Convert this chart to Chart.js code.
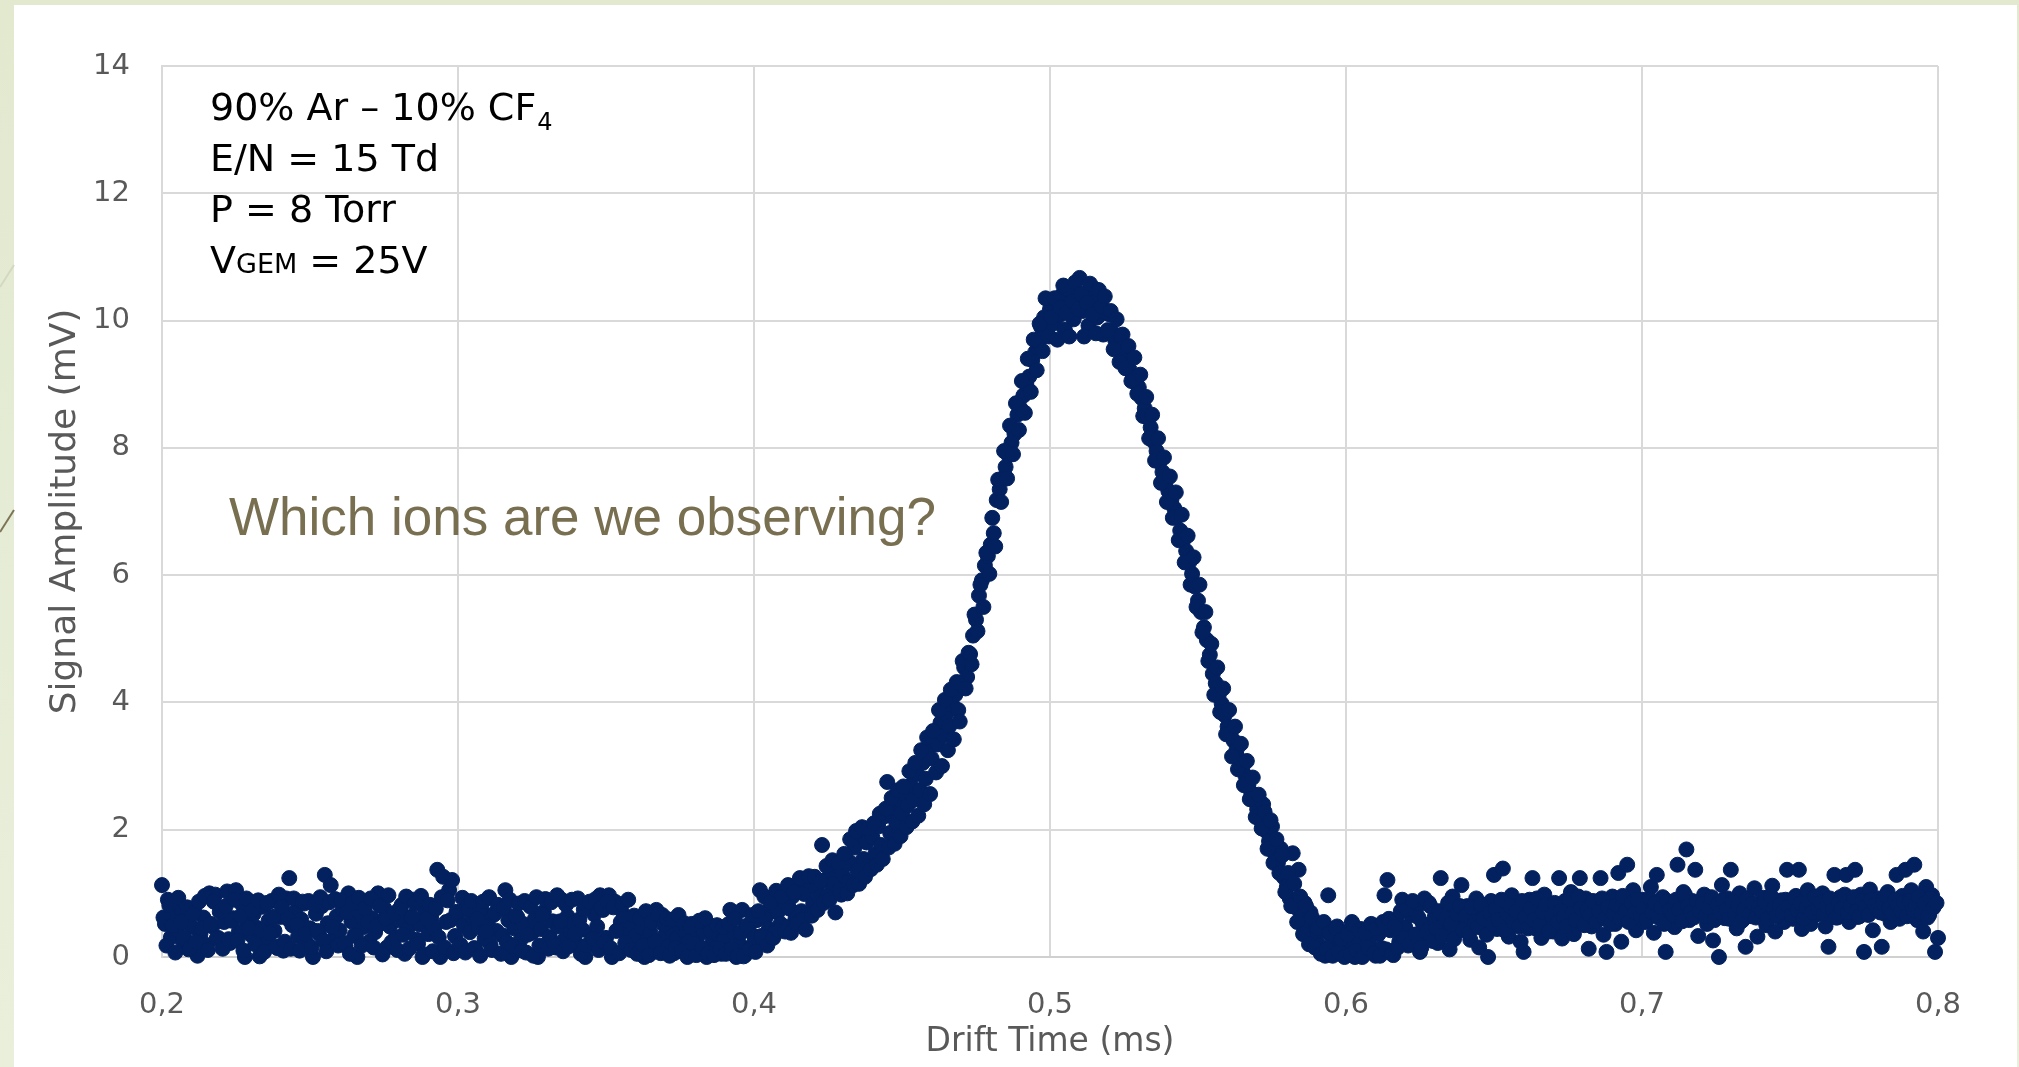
<!DOCTYPE html>
<html>
<head>
<meta charset="utf-8">
<title>Drift time spectrum</title>
<script src="https://cdn.jsdelivr.net/npm/chart.js@4"></script>
<style>
  html, body { margin: 0; padding: 0; background: #e6edd4; }
  canvas { display: block; }
</style>
</head>
<body>
<canvas id="driftChart" width="2019" height="1067"></canvas>
<script>
// drift time samples (ms), whole steps
const driftTime = [
  0.200,0.201,0.202,0.203,0.204,0.205,0.206,0.207,0.208,0.209,
  0.210,0.211,0.212,0.213,0.214,0.215,0.216,0.217,0.218,0.219,
  0.220,0.221,0.222,0.223,0.224,0.225,0.226,0.227,0.228,0.229,
  0.230,0.231,0.232,0.233,0.234,0.235,0.236,0.237,0.238,0.239,
  0.240,0.241,0.242,0.243,0.244,0.245,0.246,0.247,0.248,0.249,
  0.250,0.251,0.252,0.253,0.254,0.255,0.256,0.257,0.258,0.259,
  0.260,0.261,0.262,0.263,0.264,0.265,0.266,0.267,0.268,0.269,
  0.270,0.271,0.272,0.273,0.274,0.275,0.276,0.277,0.278,0.279,
  0.280,0.281,0.282,0.283,0.284,0.285,0.286,0.287,0.288,0.289,
  0.290,0.291,0.292,0.293,0.294,0.295,0.296,0.297,0.298,0.299,
  0.300,0.301,0.302,0.303,0.304,0.305,0.306,0.307,0.308,0.309,
  0.310,0.311,0.312,0.313,0.314,0.315,0.316,0.317,0.318,0.319,
  0.320,0.321,0.322,0.323,0.324,0.325,0.326,0.327,0.328,0.329,
  0.330,0.331,0.332,0.333,0.334,0.335,0.336,0.337,0.338,0.339,
  0.340,0.341,0.342,0.343,0.344,0.345,0.346,0.347,0.348,0.349,
  0.350,0.351,0.352,0.353,0.354,0.355,0.356,0.357,0.358,0.359,
  0.360,0.361,0.362,0.363,0.364,0.365,0.366,0.367,0.368,0.369,
  0.370,0.371,0.372,0.373,0.374,0.375,0.376,0.377,0.378,0.379,
  0.380,0.381,0.382,0.383,0.384,0.385,0.386,0.387,0.388,0.389,
  0.390,0.391,0.392,0.393,0.394,0.395,0.396,0.397,0.398,0.399,
  0.400,0.401,0.402,0.403,0.404,0.405,0.406,0.407,0.408,0.409,
  0.410,0.411,0.412,0.413,0.414,0.415,0.416,0.417,0.418,0.419,
  0.420,0.421,0.422,0.423,0.424,0.425,0.426,0.427,0.428,0.429,
  0.430,0.431,0.432,0.433,0.434,0.435,0.436,0.437,0.438,0.439,
  0.440,0.441,0.442,0.443,0.444,0.445,0.446,0.447,0.448,0.449,
  0.450,0.451,0.452,0.453,0.454,0.455,0.456,0.457,0.458,0.459,
  0.460,0.461,0.462,0.463,0.464,0.465,0.466,0.467,0.468,0.469,
  0.470,0.471,0.472,0.473,0.474,0.475,0.476,0.477,0.478,0.479,
  0.480,0.481,0.482,0.483,0.484,0.485,0.486,0.487,0.488,0.489,
  0.490,0.491,0.492,0.493,0.494,0.495,0.496,0.497,0.498,0.499,
  0.500,0.501,0.502,0.503,0.504,0.505,0.506,0.507,0.508,0.509,
  0.510,0.511,0.512,0.513,0.514,0.515,0.516,0.517,0.518,0.519,
  0.520,0.521,0.522,0.523,0.524,0.525,0.526,0.527,0.528,0.529,
  0.530,0.531,0.532,0.533,0.534,0.535,0.536,0.537,0.538,0.539,
  0.540,0.541,0.542,0.543,0.544,0.545,0.546,0.547,0.548,0.549,
  0.550,0.551,0.552,0.553,0.554,0.555,0.556,0.557,0.558,0.559,
  0.560,0.561,0.562,0.563,0.564,0.565,0.566,0.567,0.568,0.569,
  0.570,0.571,0.572,0.573,0.574,0.575,0.576,0.577,0.578,0.579,
  0.580,0.581,0.582,0.583,0.584,0.585,0.586,0.587,0.588,0.589,
  0.590,0.591,0.592,0.593,0.594,0.595,0.596,0.597,0.598,0.599,
  0.600,0.601,0.602,0.603,0.604,0.605,0.606,0.607,0.608,0.609,
  0.610,0.611,0.612,0.613,0.614,0.615,0.616,0.617,0.618,0.619,
  0.620,0.621,0.622,0.623,0.624,0.625,0.626,0.627,0.628,0.629,
  0.630,0.631,0.632,0.633,0.634,0.635,0.636,0.637,0.638,0.639,
  0.640,0.641,0.642,0.643,0.644,0.645,0.646,0.647,0.648,0.649,
  0.650,0.651,0.652,0.653,0.654,0.655,0.656,0.657,0.658,0.659,
  0.660,0.661,0.662,0.663,0.664,0.665,0.666,0.667,0.668,0.669,
  0.670,0.671,0.672,0.673,0.674,0.675,0.676,0.677,0.678,0.679,
  0.680,0.681,0.682,0.683,0.684,0.685,0.686,0.687,0.688,0.689,
  0.690,0.691,0.692,0.693,0.694,0.695,0.696,0.697,0.698,0.699,
  0.700,0.701,0.702,0.703,0.704,0.705,0.706,0.707,0.708,0.709,
  0.710,0.711,0.712,0.713,0.714,0.715,0.716,0.717,0.718,0.719,
  0.720,0.721,0.722,0.723,0.724,0.725,0.726,0.727,0.728,0.729,
  0.730,0.731,0.732,0.733,0.734,0.735,0.736,0.737,0.738,0.739,
  0.740,0.741,0.742,0.743,0.744,0.745,0.746,0.747,0.748,0.749,
  0.750,0.751,0.752,0.753,0.754,0.755,0.756,0.757,0.758,0.759,
  0.760,0.761,0.762,0.763,0.764,0.765,0.766,0.767,0.768,0.769,
  0.770,0.771,0.772,0.773,0.774,0.775,0.776,0.777,0.778,0.779,
  0.780,0.781,0.782,0.783,0.784,0.785,0.786,0.787,0.788,0.789,
  0.790,0.791,0.792,0.793,0.794,0.795,0.796,0.797,0.798,0.799,
  0.800
];

// signal amplitude (mV), one value per whole-step sample
const amplitude = [
  1.13,0.52,0.90,0.31,0.66,0.44,0.78,0.25,0.58,0.12,
  0.47,0.71,0.02,0.36,0.62,0.19,1.00,0.48,0.98,0.30,
  0.74,0.55,1.03,0.22,0.61,1.05,0.40,0.83,0.00,0.52,
  0.35,0.68,0.46,0.01,0.79,0.27,0.57,0.88,0.41,0.14,
  0.63,0.10,0.92,1.24,0.50,0.71,0.33,0.59,0.84,0.21,
  0.45,0.00,0.68,0.37,0.80,1.29,0.53,1.13,0.28,0.64,
  0.42,0.75,0.18,1.00,0.56,0.34,0.00,0.69,0.47,0.86,
  0.24,0.61,0.39,1.00,0.53,0.77,0.15,0.48,0.66,0.31,
  0.58,0.82,0.05,0.44,0.63,0.90,0.27,0.51,0.00,0.72,
  0.36,0.60,0.45,1.37,0.00,1.26,0.55,1.05,1.21,0.33,
  0.68,0.18,0.50,0.82,0.39,0.61,0.12,0.47,0.74,0.29,
  0.55,0.20,0.66,0.41,0.79,0.34,1.05,0.58,0.00,0.45,
  0.63,0.26,0.52,0.07,0.82,0.38,0.60,0.00,0.44,0.71,
  0.90,0.32,0.56,0.15,0.48,0.90,0.27,0.64,0.40,0.53,
  0.21,0.59,0.43,0.00,0.82,0.35,0.67,0.48,0.97,0.74,
  0.30,0.97,0.00,0.87,0.42,0.55,0.66,0.19,0.38,0.50,
  0.33,0.12,0.46,0.00,0.28,0.39,0.08,0.74,0.22,0.66,
  0.35,0.17,0.44,0.06,0.30,0.48,0.13,0.37,0.24,0.52,
  0.19,0.33,0.08,0.41,0.00,0.50,0.27,0.14,0.36,0.05,
  0.29,0.11,0.74,0.38,0.00,0.21,0.74,0.03,0.45,0.16,
  0.33,0.58,1.05,0.27,0.62,0.44,0.81,0.39,0.70,0.52,
  0.88,0.47,0.76,0.95,0.60,1.12,0.72,0.99,0.66,1.18,
  0.84,1.08,0.93,1.76,1.21,0.98,1.35,1.15,1.44,1.06,
  1.30,1.58,1.19,1.47,1.72,1.36,1.93,1.54,1.80,1.42,
  1.88,1.62,2.05,1.76,2.21,2.75,1.95,2.34,2.12,2.48,
  2.26,2.55,2.38,2.70,2.47,2.88,2.62,3.05,2.80,3.30,
  3.12,3.52,3.34,3.68,3.48,3.82,3.63,3.96,4.12,3.88,
  4.28,4.55,4.40,4.76,5.05,5.30,5.68,5.92,6.15,6.30,
  6.48,6.66,7.18,7.35,7.52,7.70,7.88,8.08,8.22,8.52,
  8.62,8.82,9.00,9.12,9.38,9.50,9.66,9.90,10.05,9.82,
  10.18,9.95,10.32,10.08,10.40,9.86,10.22,10.45,10.02,10.30,
  10.67,10.15,10.38,9.92,10.26,10.50,10.05,10.35,9.78,10.12,
  10.10,9.82,9.70,9.58,9.74,9.46,9.35,9.22,9.10,9.02,
  8.95,8.78,8.62,8.48,8.32,8.10,7.95,7.78,7.62,7.45,
  7.32,7.18,7.05,6.92,6.70,6.55,6.38,6.20,6.02,5.82,
  5.60,5.42,5.18,4.98,4.75,4.45,4.30,4.12,3.98,3.80,
  3.62,3.48,3.40,3.25,3.10,2.98,2.85,2.70,2.58,2.45,
  2.32,2.16,2.40,1.98,1.82,2.05,1.62,1.48,1.70,1.25,
  1.10,0.92,1.63,0.78,1.37,0.62,0.85,0.45,0.70,0.30,
  0.52,0.18,0.40,0.02,0.97,0.33,0.12,0.48,0.25,0.06,
  0.38,0.15,0.55,0.00,0.29,0.44,0.09,0.33,0.20,0.50,
  0.02,0.36,0.14,0.97,1.21,0.42,0.03,0.58,0.24,0.90,
  0.47,0.18,0.66,0.35,0.78,0.08,0.52,0.29,0.85,0.41,
  0.63,0.22,1.24,0.50,0.74,0.12,0.95,0.38,0.60,1.13,
  0.46,0.80,0.27,0.68,0.92,0.15,0.55,0.76,0.00,0.88,
  1.29,0.44,0.70,1.39,0.58,0.32,0.97,0.50,0.81,0.24,
  0.08,0.66,0.90,1.24,0.45,0.73,0.30,0.98,0.57,0.82,
  0.40,0.69,1.24,0.29,0.88,0.55,1.02,0.36,0.75,1.24,
  0.62,0.92,0.13,0.48,0.80,0.58,1.24,0.35,0.08,0.71,
  0.95,0.52,1.32,0.24,0.83,1.45,0.64,1.05,0.42,0.78,
  0.90,0.55,0.72,1.10,0.38,1.29,0.66,0.94,0.08,0.60,
  0.84,0.47,1.45,0.70,1.02,1.69,0.58,0.88,1.37,0.33,
  0.76,0.98,0.52,0.80,0.26,0.68,0.00,1.13,0.61,0.92,
  1.37,0.72,0.45,1.00,0.58,0.16,0.85,0.64,1.08,0.32,
  0.70,0.93,0.50,0.78,1.12,0.40,0.66,0.89,0.55,1.37,
  0.82,0.60,0.96,1.37,0.44,0.74,1.05,0.52,0.88,0.67,
  0.79,1.00,0.48,0.16,0.85,1.29,0.62,0.94,0.70,1.29,
  0.55,0.86,1.37,0.63,0.98,0.08,0.74,1.06,0.42,0.80,
  0.92,0.16,0.68,1.02,0.55,0.84,1.29,0.60,0.96,1.37,
  0.72,1.05,1.45,0.58,0.86,0.40,1.10,0.66,0.97,0.08,
  0.30
];

// drift time samples (ms), half steps in between
const halfStepTime = [
  0.2005,0.2015,0.2025,0.2035,0.2045,0.2055,0.2065,0.2075,0.2085,0.2095,
  0.2105,0.2115,0.2125,0.2135,0.2145,0.2155,0.2165,0.2175,0.2185,0.2195,
  0.2205,0.2215,0.2225,0.2235,0.2245,0.2255,0.2265,0.2275,0.2285,0.2295,
  0.2305,0.2315,0.2325,0.2335,0.2345,0.2355,0.2365,0.2375,0.2385,0.2395,
  0.2405,0.2415,0.2425,0.2435,0.2445,0.2455,0.2465,0.2475,0.2485,0.2495,
  0.2505,0.2515,0.2525,0.2535,0.2545,0.2555,0.2565,0.2575,0.2585,0.2595,
  0.2605,0.2615,0.2625,0.2635,0.2645,0.2655,0.2665,0.2675,0.2685,0.2695,
  0.2705,0.2715,0.2725,0.2735,0.2745,0.2755,0.2765,0.2775,0.2785,0.2795,
  0.2805,0.2815,0.2825,0.2835,0.2845,0.2855,0.2865,0.2875,0.2885,0.2895,
  0.2905,0.2915,0.2925,0.2935,0.2945,0.2955,0.2965,0.2975,0.2985,0.2995,
  0.3005,0.3015,0.3025,0.3035,0.3045,0.3055,0.3065,0.3075,0.3085,0.3095,
  0.3105,0.3115,0.3125,0.3135,0.3145,0.3155,0.3165,0.3175,0.3185,0.3195,
  0.3205,0.3215,0.3225,0.3235,0.3245,0.3255,0.3265,0.3275,0.3285,0.3295,
  0.3305,0.3315,0.3325,0.3335,0.3345,0.3355,0.3365,0.3375,0.3385,0.3395,
  0.3405,0.3415,0.3425,0.3435,0.3445,0.3455,0.3465,0.3475,0.3485,0.3495,
  0.3505,0.3515,0.3525,0.3535,0.3545,0.3555,0.3565,0.3575,0.3585,0.3595,
  0.3605,0.3615,0.3625,0.3635,0.3645,0.3655,0.3665,0.3675,0.3685,0.3695,
  0.3705,0.3715,0.3725,0.3735,0.3745,0.3755,0.3765,0.3775,0.3785,0.3795,
  0.3805,0.3815,0.3825,0.3835,0.3845,0.3855,0.3865,0.3875,0.3885,0.3895,
  0.3905,0.3915,0.3925,0.3935,0.3945,0.3955,0.3965,0.3975,0.3985,0.3995,
  0.4005,0.4015,0.4025,0.4035,0.4045,0.4055,0.4065,0.4075,0.4085,0.4095,
  0.4105,0.4115,0.4125,0.4135,0.4145,0.4155,0.4165,0.4175,0.4185,0.4195,
  0.4205,0.4215,0.4225,0.4235,0.4245,0.4255,0.4265,0.4275,0.4285,0.4295,
  0.4305,0.4315,0.4325,0.4335,0.4345,0.4355,0.4365,0.4375,0.4385,0.4395,
  0.4405,0.4415,0.4425,0.4435,0.4445,0.4455,0.4465,0.4475,0.4485,0.4495,
  0.4505,0.4515,0.4525,0.4535,0.4545,0.4555,0.4565,0.4575,0.4585,0.4595,
  0.4605,0.4615,0.4625,0.4635,0.4645,0.4655,0.4665,0.4675,0.4685,0.4695,
  0.4705,0.4715,0.4725,0.4735,0.4745,0.4755,0.4765,0.4775,0.4785,0.4795,
  0.4805,0.4815,0.4825,0.4835,0.4845,0.4855,0.4865,0.4875,0.4885,0.4895,
  0.4905,0.4915,0.4925,0.4935,0.4945,0.4955,0.4965,0.4975,0.4985,0.4995,
  0.5005,0.5015,0.5025,0.5035,0.5045,0.5055,0.5065,0.5075,0.5085,0.5095,
  0.5105,0.5115,0.5125,0.5135,0.5145,0.5155,0.5165,0.5175,0.5185,0.5195,
  0.5205,0.5215,0.5225,0.5235,0.5245,0.5255,0.5265,0.5275,0.5285,0.5295,
  0.5305,0.5315,0.5325,0.5335,0.5345,0.5355,0.5365,0.5375,0.5385,0.5395,
  0.5405,0.5415,0.5425,0.5435,0.5445,0.5455,0.5465,0.5475,0.5485,0.5495,
  0.5505,0.5515,0.5525,0.5535,0.5545,0.5555,0.5565,0.5575,0.5585,0.5595,
  0.5605,0.5615,0.5625,0.5635,0.5645,0.5655,0.5665,0.5675,0.5685,0.5695,
  0.5705,0.5715,0.5725,0.5735,0.5745,0.5755,0.5765,0.5775,0.5785,0.5795,
  0.5805,0.5815,0.5825,0.5835,0.5845,0.5855,0.5865,0.5875,0.5885,0.5895,
  0.5905,0.5915,0.5925,0.5935,0.5945,0.5955,0.5965,0.5975,0.5985,0.5995,
  0.6005,0.6015,0.6025,0.6035,0.6045,0.6055,0.6065,0.6075,0.6085,0.6095,
  0.6105,0.6115,0.6125,0.6135,0.6145,0.6155,0.6165,0.6175,0.6185,0.6195,
  0.6205,0.6215,0.6225,0.6235,0.6245,0.6255,0.6265,0.6275,0.6285,0.6295,
  0.6305,0.6315,0.6325,0.6335,0.6345,0.6355,0.6365,0.6375,0.6385,0.6395,
  0.6405,0.6415,0.6425,0.6435,0.6445,0.6455,0.6465,0.6475,0.6485,0.6495,
  0.6505,0.6515,0.6525,0.6535,0.6545,0.6555,0.6565,0.6575,0.6585,0.6595,
  0.6605,0.6615,0.6625,0.6635,0.6645,0.6655,0.6665,0.6675,0.6685,0.6695,
  0.6705,0.6715,0.6725,0.6735,0.6745,0.6755,0.6765,0.6775,0.6785,0.6795,
  0.6805,0.6815,0.6825,0.6835,0.6845,0.6855,0.6865,0.6875,0.6885,0.6895,
  0.6905,0.6915,0.6925,0.6935,0.6945,0.6955,0.6965,0.6975,0.6985,0.6995,
  0.7005,0.7015,0.7025,0.7035,0.7045,0.7055,0.7065,0.7075,0.7085,0.7095,
  0.7105,0.7115,0.7125,0.7135,0.7145,0.7155,0.7165,0.7175,0.7185,0.7195,
  0.7205,0.7215,0.7225,0.7235,0.7245,0.7255,0.7265,0.7275,0.7285,0.7295,
  0.7305,0.7315,0.7325,0.7335,0.7345,0.7355,0.7365,0.7375,0.7385,0.7395,
  0.7405,0.7415,0.7425,0.7435,0.7445,0.7455,0.7465,0.7475,0.7485,0.7495,
  0.7505,0.7515,0.7525,0.7535,0.7545,0.7555,0.7565,0.7575,0.7585,0.7595,
  0.7605,0.7615,0.7625,0.7635,0.7645,0.7655,0.7665,0.7675,0.7685,0.7695,
  0.7705,0.7715,0.7725,0.7735,0.7745,0.7755,0.7765,0.7775,0.7785,0.7795,
  0.7805,0.7815,0.7825,0.7835,0.7845,0.7855,0.7865,0.7875,0.7885,0.7895,
  0.7905,0.7915,0.7925,0.7935,0.7945,0.7955,0.7965,0.7975,0.7985,0.7995
];

// signal amplitude (mV) at the half-step samples
const halfStepAmp = [
  0.62,0.18,0.81,0.49,0.07,0.93,0.55,0.30,0.78,0.14,
  0.68,0.24,0.87,0.45,0.96,0.11,0.52,0.87,0.29,0.71,
  0.13,0.80,0.28,0.57,0.90,0.26,0.64,0.10,0.92,0.45,
  0.73,0.20,0.89,0.42,0.08,0.85,0.37,0.63,0.16,0.98,
  0.79,0.24,0.60,0.13,0.92,0.51,0.10,0.87,0.36,0.88,
  0.15,0.82,0.41,0.94,0.26,0.09,0.86,0.47,0.91,0.18,
  0.89,0.22,0.70,0.05,0.85,0.33,0.93,0.18,0.76,0.55,
  0.92,0.15,0.48,0.81,0.04,0.60,0.97,0.23,0.69,0.11,
  0.77,0.35,0.95,0.13,0.63,0.84,0.21,0.96,0.04,0.60,
  0.82,0.09,0.76,0.31,0.94,0.15,0.89,0.58,0.06,0.71,
  0.20,0.93,0.07,0.75,0.88,0.14,0.60,0.02,0.87,0.40,
  0.94,0.11,0.69,0.82,0.05,0.77,0.23,0.90,0.17,0.65,
  0.84,0.10,0.88,0.35,0.79,0.02,0.94,0.18,0.66,0.91,
  0.13,0.86,0.21,0.97,0.56,0.09,0.82,0.17,0.90,0.36,
  0.92,0.05,0.75,0.18,0.87,0.29,0.91,0.11,0.78,0.23,
  0.87,0.14,0.78,0.41,0.06,0.83,0.22,0.90,0.11,0.65,
  0.05,0.61,0.18,0.72,0.03,0.55,0.24,0.67,0.06,0.51,
  0.60,0.02,0.59,0.14,0.66,0.09,0.53,0.00,0.48,0.21,
  0.03,0.57,0.14,0.61,0.06,0.40,0.03,0.50,0.12,0.47,
  0.05,0.52,0.13,0.60,0.02,0.38,0.01,0.49,0.12,0.66,
  0.08,0.72,0.33,0.95,0.18,0.86,0.30,1.04,0.41,0.95,
  0.40,1.13,0.38,1.02,0.52,1.24,0.59,0.43,1.27,0.65,
  1.26,0.74,1.19,0.85,1.43,0.90,1.52,0.70,1.48,0.98,
  1.62,1.00,1.85,1.13,1.98,1.15,2.04,1.26,2.02,1.38,
  2.10,1.45,2.25,1.54,2.33,1.72,2.50,1.78,2.62,1.90,
  2.68,2.04,2.92,2.13,3.05,2.22,3.25,2.40,3.45,2.56,
  3.55,2.90,3.88,3.00,4.04,3.25,4.20,3.42,4.32,3.70,
  4.65,4.22,4.78,4.60,5.38,5.12,5.85,5.50,6.35,6.02,
  6.90,6.45,7.50,7.15,7.95,7.52,8.35,7.90,8.70,8.28,
  9.05,8.55,9.40,8.88,9.70,9.22,9.95,9.52,10.35,9.75,
  10.05,10.35,9.70,10.20,10.55,10.12,9.75,10.30,10.60,10.18,
  10.42,9.75,10.28,10.58,10.10,9.80,10.48,10.22,10.38,9.85,
  10.15,9.55,10.02,9.35,9.78,9.25,9.60,9.05,9.42,8.85,
  9.15,8.50,8.80,8.15,8.52,7.80,8.15,7.45,7.85,7.15,
  7.55,6.90,7.30,6.55,6.95,6.20,6.62,5.85,6.28,5.50,
  5.85,5.10,5.42,4.65,4.92,4.12,4.55,3.85,4.22,3.50,
  3.88,3.15,3.62,2.95,3.35,2.70,3.08,2.48,2.82,2.20,
  2.55,2.02,2.28,1.70,2.15,1.48,1.85,1.32,1.60,1.02,
  1.32,0.80,1.15,0.55,0.95,0.36,0.80,0.20,0.62,0.15,
  0.45,0.05,0.55,0.12,0.38,0.02,0.45,0.08,0.28,0.00,
  0.35,0.04,0.50,0.10,0.42,0.00,0.38,0.14,0.52,0.06,
  0.45,0.02,0.55,0.12,0.60,0.05,0.48,0.15,0.72,0.30,
  0.75,0.20,0.88,0.35,0.62,0.15,0.92,0.40,0.80,0.25,
  0.45,0.72,0.33,0.60,0.85,0.52,0.28,0.68,0.80,0.42,
  0.65,0.38,0.78,0.55,0.47,0.82,0.60,0.35,0.70,0.52,
  0.75,0.58,0.90,0.42,0.68,0.80,0.55,0.72,0.48,0.88,
  0.62,0.45,0.77,0.58,0.92,0.50,0.70,0.82,0.40,0.66,
  0.85,0.55,0.72,0.62,0.48,0.90,0.68,0.58,0.95,0.76,
  0.50,0.74,0.65,0.88,0.56,0.72,0.92,0.60,0.78,0.52,
  0.68,0.82,0.60,0.96,0.72,0.55,0.85,0.70,0.90,0.64,
  0.76,0.58,0.92,0.70,0.84,0.62,0.78,0.52,0.88,0.74,
  0.66,0.90,0.75,0.56,0.98,0.80,0.70,0.62,0.86,0.72,
  0.84,0.64,0.78,0.94,0.58,0.82,0.70,0.90,0.75,0.60,
  0.88,0.66,0.80,0.56,0.74,0.92,0.68,0.84,0.62,0.78,
  0.72,0.86,0.60,0.96,0.76,0.64,0.82,0.70,0.90,0.80,
  0.66,0.92,0.74,0.84,0.60,0.78,0.88,0.70,0.95,0.76,
  0.86,0.68,0.80,0.92,0.74,0.62,0.84,0.76,0.98,0.70,
  0.80,0.94,0.72,0.64,0.88,0.78,0.66,0.90,0.82,0.74,
  0.70,0.84,0.96,0.76,0.68,0.90,0.80,0.72,0.86,0.64,
  0.88,0.74,0.82,0.95,0.70,0.84,0.62,0.92,0.78,0.85
];

const xRange = [0.2, 0.8];
const yRange = [0, 14];

const gasLines = ['90% Ar \u2013 10% CF', 'E/N = 15 Td', 'P = 8 Torr', 'V'];
const question = 'Which ions are we observing?';

const navy = '#03215f';
const gothic = '"DejaVu Sans", "Liberation Sans", sans-serif';

const points = driftTime.map((t, i) => ({ x: t, y: amplitude[i] }))
  .concat(halfStepTime.map((t, i) => ({ x: t, y: halfStepAmp[i] })));

// green slide frame behind the white plot page
const slideFrame = {
  id: 'slideFrame',
  beforeDraw(chart) {
    const c = chart.ctx;
    const w = chart.width, h = chart.height;
    c.save();
    const g = c.createLinearGradient(0, 0, 0, h);
    g.addColorStop(0, '#e2e9cf');
    g.addColorStop(1, '#e9efdb');
    c.fillStyle = g;
    c.fillRect(0, 0, w, h);
    c.fillStyle = '#ffffff';
    c.fillRect(14, 5, w - 16, h - 5);
    c.lineWidth = 2;
    c.strokeStyle = '#d3d9c0';
    c.beginPath(); c.moveTo(14, 265); c.lineTo(0, 287); c.stroke();
    c.strokeStyle = '#7d7355';
    c.beginPath(); c.moveTo(14, 510); c.lineTo(0, 532); c.stroke();
    c.restore();
  }
};

// gas conditions and question written on top of the plot
const notes = {
  id: 'notes',
  afterDraw(chart) {
    const c = chart.ctx;
    c.save();
    c.fillStyle = '#000000';
    c.textBaseline = 'alphabetic';
    c.textAlign = 'left';
    const x0 = 210;
    const base = [120, 171, 222, 273];
    c.font = '38px ' + gothic;
    c.fillText(gasLines[0], x0, base[0]);
    let w = c.measureText(gasLines[0]).width;
    c.font = '24px ' + gothic;
    c.fillText('4', x0 + w + 1, base[0] + 10);
    c.font = '38px ' + gothic;
    c.fillText(gasLines[1], x0, base[1]);
    c.fillText(gasLines[2], x0, base[2]);
    c.fillText(gasLines[3], x0, base[3]);
    w = c.measureText(gasLines[3]).width;
    c.font = '27px ' + gothic;
    c.fillText('GEM', x0 + w, base[3]);
    const w2 = c.measureText('GEM').width;
    c.font = '38px ' + gothic;
    c.fillText(' = 25V', x0 + w + w2, base[3]);

    c.fillStyle = '#786e50';
    c.font = '53px "Liberation Sans", Arial, sans-serif';
    c.fillText(question, 229, 535);
    c.restore();
  }
};

const fmt = v => v.toFixed(1).replace('.', ',');

new Chart(document.getElementById('driftChart'), {
  type: 'scatter',
  data: {
    datasets: [{
      data: points,
      pointRadius: 7.5,
      pointHoverRadius: 7.5,
      pointBackgroundColor: navy,
      pointBorderColor: navy,
      pointBorderWidth: 1,
      clip: 10
    }]
  },
  options: {
    responsive: false,
    animation: false,
    events: [],
    layout: { padding: { left: 18, top: 66, right: 81, bottom: 0 } },
    plugins: {
      legend: { display: false },
      tooltip: { enabled: false }
    },
    scales: {
      x: {
        type: 'linear',
        min: xRange[0],
        max: xRange[1],
        afterFit: s => { s.height = 110; },
        ticks: {
          stepSize: 0.1,
          padding: 31,
          color: '#595959',
          font: { family: gothic, size: 29 },
          callback: v => fmt(v)
        },
        grid: { color: '#d9d9d9', lineWidth: 2, drawTicks: false },
        border: { color: '#d0d0d0', width: 2 },
        title: {
          display: true,
          text: 'Drift Time (ms)',
          color: '#595959',
          font: { family: gothic, size: 33 },
          padding: { top: 0, bottom: 5 }
        }
      },
      y: {
        min: yRange[0],
        max: yRange[1],
        afterFit: s => { s.width = 144; },
        ticks: {
          stepSize: 2,
          padding: 32,
          color: '#595959',
          font: { family: gothic, size: 29 }
        },
        grid: { color: '#d9d9d9', lineWidth: 2, drawTicks: false },
        border: { color: '#d9d9d9', width: 2 },
        title: {
          display: true,
          text: 'Signal Amplitude (mV)',
          color: '#595959',
          font: { family: gothic, size: 36 },
          padding: { top: 26, bottom: 0 }
        }
      }
    }
  },
  plugins: [slideFrame, notes]
});
</script>
</body>
</html>
